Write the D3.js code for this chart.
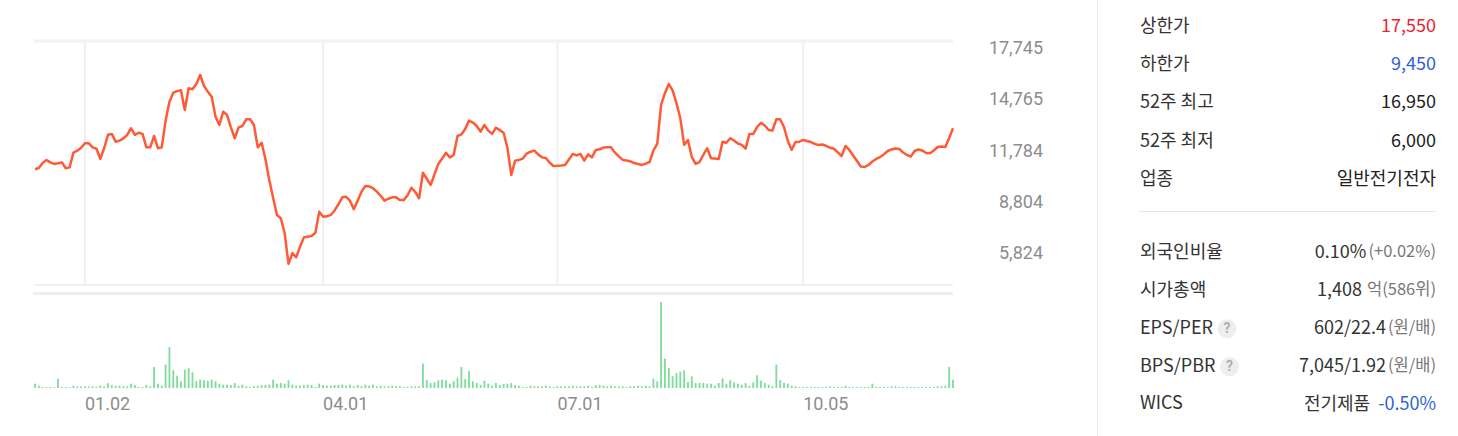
<!DOCTYPE html>
<html>
<head>
<meta charset="utf-8">
<script src="https://cdn.jsdelivr.net/npm/d3@7"></script>
<style>
  body { margin: 0; background: #fff; }
  svg { display: block; }
  .axis-label { font-family: Roboto, 'Noto Sans', sans-serif; font-size: 18px; fill: #8c8c8c; }
  .info { font-family: 'Noto Sans CJK KR', 'Noto Sans', sans-serif; font-size: 18px; fill: #333; }
</style>
</head>
<body>
<svg id="chart" width="1458" height="436"></svg>
<script>
// daily close, one per trading day (2019.12 ~ 2020.11)
const prices = [
  11350, 11420, 11720, 11890, 11750, 11660, 11700, 11750, 11410, 11460,
  12310, 12430, 12600, 12860, 12860, 12620, 12540, 11960, 12570, 13350,
  13400, 12950, 13010, 13140, 13340, 13730, 13340, 13470, 13400, 12620,
  12620, 13280, 12570, 12620, 14170, 15270, 15790, 15880, 15930, 14790,
  16050, 15990, 16300, 16820, 16180, 15850, 15560, 14400, 13920, 14690,
  14500, 13780, 13150, 13780, 13860, 14250, 14250, 13920, 12620, 12890,
  11930, 10730, 9680, 8700, 8510, 7640, 5860, 6480, 6240, 6860,
  7400, 7440, 7480, 7670, 8890, 8600, 8620, 8700, 8960, 9320,
  9720, 9750, 9530, 9030, 9530, 10050, 10380, 10360, 10250, 10050,
  9810, 9530, 9640, 9720, 9720, 9570, 9560, 9840, 10280, 10030,
  9670, 11150, 10800, 10440, 11050, 11660, 11970, 12310, 12040, 12180,
  13280, 13370, 13690, 14170, 14060, 13860, 13530, 13920, 13590, 13400,
  13760, 13620, 13470, 12580, 11020, 11850, 11890, 11970, 12260, 12370,
  12430, 12210, 12040, 12000, 11730, 11540, 11550, 11570, 11600, 11920,
  12240, 12150, 12240, 11850, 12210, 12040, 12470, 12510, 12610, 12620,
  12620, 12310, 12100, 11890, 11860, 11810, 11710, 11660, 11600, 11680,
  11770, 12440, 12820, 15080, 15760, 16300, 15920, 15190, 14320, 12760,
  13050, 12060, 11660, 11770, 12180, 12570, 11990, 11970, 11950, 12950,
  12890, 13150, 13020, 12840, 12760, 12550, 13400, 13400, 13800, 14050,
  13890, 13630, 13590, 14250, 14250, 13800, 12990, 12470, 12930, 12950,
  13050, 12990, 12930, 12820, 12760, 12790, 12700, 12600, 12540, 12330,
  12120, 12700, 12470, 12150, 11830, 11510, 11480, 11600, 11800, 11950,
  12060, 12210, 12410, 12500, 12550, 12530, 12320, 12180, 12080, 12410,
  12500, 12440, 12290, 12280, 12440, 12640, 12670, 12640, 13160, 13730
];

// volume, thousand shares
const volumes = [
  43, 23, 10, 10, 10, 7, 93, 10, 10, 7,
  23, 15, 15, 17, 15, 17, 13, 23, 17, 47,
  30, 23, 23, 17, 17, 43, 30, 10, 10, 30,
  17, 210, 43, 23, 233, 407, 177, 123, 67, 183,
  197, 157, 67, 83, 77, 70, 83, 67, 43, 33,
  33, 30, 50, 23, 33, 17, 10, 17, 23, 30,
  30, 33, 83, 43, 50, 43, 77, 33, 23, 23,
  30, 33, 30, 10, 43, 30, 23, 23, 30, 30,
  33, 23, 33, 17, 30, 17, 33, 23, 33, 17,
  23, 17, 17, 23, 17, 17, 10, 10, 17, 17,
  17, 243, 77, 50, 57, 77, 83, 77, 43, 67,
  103, 210, 90, 170, 67, 50, 33, 73, 43, 23,
  50, 30, 40, 43, 50, 30, 23, 10, 10, 23,
  17, 17, 17, 23, 17, 10, 17, 17, 17, 17,
  23, 17, 17, 17, 23, 10, 30, 30, 23, 17,
  23, 17, 17, 17, 10, 17, 17, 23, 17, 23,
  17, 93, 67, 857, 293, 200, 117, 150, 163, 177,
  60, 117, 50, 50, 50, 43, 43, 23, 50, 97,
  43, 77, 57, 43, 33, 50, 23, 57, 127, 73,
  50, 33, 17, 233, 77, 50, 43, 23, 17, 10,
  10, 10, 10, 10, 10, 10, 10, 17, 10, 10,
  10, 23, 10, 10, 10, 10, 10, 10, 43, 10,
  10, 10, 10, 17, 17, 10, 10, 10, 10, 10,
  10, 10, 10, 10, 10, 17, 17, 23, 210, 83
];

const dateLabels = ['01.02', '04.01', '07.01', '10.05'];
const dateIndex = [13, 75, 136, 200];
const priceTicks = [17745, 14765, 11784, 8804, 5824];
const priceDomain = [4695, 18789];

const topLabels = ['상한가', '하한가', '52주 최고', '52주 최저', '업종'];
const topValues = ['17,550', '9,450', '16,950', '6,000', '일반전기전자'];
const bottomLabels = ['외국인비율', '시가총액', 'EPS/PER', 'BPS/PBR', 'WICS'];
const bottomValues = ['0.10%', '1,408', '602/22.4', '7,045/1.92', '전기제품'];
const bottomNotes = ['(+0.02%)', '억(586위)', '(원/배)', '(원/배)', '-0.50%'];
const helpIcon = [false, false, true, true, false];

const topColors = ['#f0222e', '#2f5fe0', '#222', '#222', '#222'];

const svg = d3.select('#chart');

// =====================
// PRICE CHART
// =====================
const plot = { left: 35, right: 953, top: 41, bottom: 284 };

const x = d3.scaleLinear()
  .domain([0, prices.length - 1])
  .range([plot.left, plot.right]);

const y = d3.scaleLinear()
  .domain(priceDomain)
  .range([plot.bottom, plot.top]);

// frame
svg.append('rect')
  .attr('x', plot.left - 1)
  .attr('y', plot.top - 1.5)
  .attr('width', plot.right - plot.left + 1)
  .attr('height', 3)
  .attr('fill', '#f2f2f2');

svg.selectAll('.vgrid')
  .data(dateIndex)
  .enter()
  .append('line')
  .attr('class', 'vgrid')
  .attr('x1', d => x(d))
  .attr('x2', d => x(d))
  .attr('y1', plot.top)
  .attr('y2', plot.bottom)
  .attr('stroke', '#f0f0f0')
  .attr('stroke-width', 2);

svg.append('line')
  .attr('x1', plot.left).attr('x2', plot.right)
  .attr('y1', plot.bottom + 1).attr('y2', plot.bottom + 1)
  .attr('stroke', '#f0f0f0').attr('stroke-width', 2);

svg.append('line')
  .attr('x1', plot.left - 2).attr('x2', plot.right)
  .attr('y1', 293.5).attr('y2', 293.5)
  .attr('stroke', '#efefef').attr('stroke-width', 3);

// y labels
svg.selectAll('.ylab')
  .data(priceTicks)
  .enter()
  .append('text')
  .attr('class', 'axis-label')
  .attr('x', 1043)
  .attr('y', d => y(d) - 10)
  .attr('dominant-baseline', 'middle')
  .attr('text-anchor', 'end')
  .text(d => d3.format(',')(d));

const line = d3.line()
  .x((d, i) => x(i))
  .y(d => y(d));

svg.append('path')
  .datum(prices)
  .attr('d', line)
  .attr('fill', 'none')
  .attr('stroke', '#ff5a36')
  .attr('stroke-width', 2.5)
  .attr('stroke-linejoin', 'round');

// =====================
// VOLUME
// =====================
const yVol = d3.scaleLinear()
  .domain([0, d3.max(volumes)])
  .range([388, 302]);

svg.selectAll('.vol')
  .data(volumes)
  .enter()
  .append('rect')
  .attr('class', 'vol')
  .attr('x', (d, i) => x(i) - 0.9)
  .attr('y', d => yVol(d))
  .attr('width', 1.8)
  .attr('height', d => yVol(0) - yVol(d))
  .attr('fill', '#7ddc99');

svg.selectAll('.xlab')
  .data(dateIndex)
  .enter()
  .append('text')
  .attr('class', 'axis-label')
  .attr('x', d => x(d))
  .attr('y', 405)
  .attr('dominant-baseline', 'middle')
  .text((d, i) => dateLabels[i]);

// =====================
// INFO PANEL
// =====================
svg.append('line')
  .attr('x1', 1097.5).attr('x2', 1097.5)
  .attr('y1', 0).attr('y2', 436)
  .attr('stroke', '#ebebeb');

const infoLeft = 1140, infoRight = 1436;

topLabels.forEach((label, i) => {
  const rowY = 27 + i * 38.3;
  svg.append('text')
    .attr('class', 'info')
    .attr('x', infoLeft)
    .attr('y', rowY)
    .attr('dominant-baseline', 'middle')
    .text(label);
  svg.append('text')
    .attr('class', 'info')
    .attr('x', infoRight)
    .attr('y', rowY)
    .attr('dominant-baseline', 'middle')
    .attr('text-anchor', 'end')
    .style('fill', topColors[i])
    .text(topValues[i]);
});

svg.append('line')
  .attr('x1', 1139).attr('x2', infoRight)
  .attr('y1', 211.5).attr('y2', 211.5)
  .attr('stroke', '#e6e6e6');

bottomLabels.forEach((label, i) => {
  const rowY = 253 + i * 37.9;
  const lab = svg.append('text')
    .attr('class', 'info')
    .attr('x', infoLeft)
    .attr('y', rowY)
    .attr('dominant-baseline', 'middle')
    .text(label);

  if (helpIcon[i]) {
    const cx = infoLeft + lab.node().getComputedTextLength() + 14;
    svg.append('circle')
      .attr('cx', cx).attr('cy', rowY).attr('r', 9.5)
      .attr('fill', '#eeeeee');
    svg.append('text')
      .attr('x', cx).attr('y', rowY + 0.5)
      .attr('text-anchor', 'middle')
      .attr('dominant-baseline', 'middle')
      .style('font-family', 'Roboto, sans-serif')
      .style('font-size', '14px')
      .style('font-weight', 'bold')
      .style('fill', '#b0b0b0')
      .text('?');
  }

  const val = svg.append('text')
    .attr('class', 'info')
    .attr('x', infoRight)
    .attr('y', rowY)
    .attr('dominant-baseline', 'middle')
    .attr('text-anchor', 'end');

  val.append('tspan').text(bottomValues[i]);

  if (i === 4) {
    val.append('tspan')
      .attr('dx', 8)
      .style('fill', '#2f5fe0')
      .text(bottomNotes[i]);
  } else {
    val.append('tspan')
      .attr('dx', i === 1 ? 5 : 2)
      .style('fill', '#777')
      .style('font-size', '16.5px')
      .text(bottomNotes[i]);
  }
});
</script>
</body>
</html>
